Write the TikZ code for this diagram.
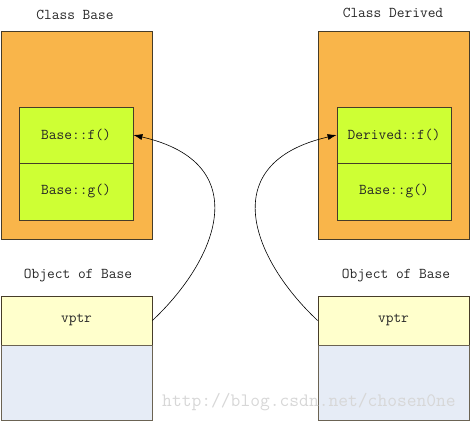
\documentclass[tikz,border=0pt]{standalone}
\usepackage{fontspec}
\usetikzlibrary{arrows.meta}
\definecolor{orangebox}{RGB}{249,181,74}
\definecolor{greenbox}{RGB}{206,255,52}
\definecolor{yellowbox}{RGB}{255,255,204}
\definecolor{bluebox}{RGB}{230,236,246}
\definecolor{edge}{RGB}{70,60,40}
\definecolor{wm}{RGB}{215,215,215}
\tikzset{
  txt/.style={font=\ttfamily\fontsize{15}{16}\selectfont, text=black!85, inner sep=0pt},
  classbox/.style={draw=edge, line width=0.8pt, fill=orangebox, minimum width=151pt, minimum height=208pt, inner sep=0pt},
  fnbox/.style={draw=edge, line width=0.8pt, fill=greenbox, minimum width=114pt, inner sep=0pt, txt},
  ptrbox/.style={draw=edge, line width=0.8pt, fill=yellowbox, minimum width=151pt, minimum height=49pt, inner sep=0pt, txt},
  restbox/.style={draw=edge!80, line width=0.8pt, fill=bluebox, minimum width=151pt, minimum height=75pt, inner sep=0pt},
  link/.style={draw=black, line width=0.6pt, -{Latex[length=9pt,width=6pt]}},
}
\begin{document}
\begin{tikzpicture}[x=1pt,y=-1pt]
\useasboundingbox (0,0) rectangle (470,421);
% left class
\node[txt] (tL) at (75,15) {Class Base};
\node[classbox] (cL) at (76.5,135) {};
\node[fnbox, minimum height=56pt] (fL) at (76,135) {Base::f()};
\node[fnbox, minimum height=57pt] (gL) at (76,191.5) {Base::g()};
% right class
\node[txt] (tR) at (393,13) {Class Derived};
\node[classbox] (cR) at (393.5,135) {};
\node[fnbox, minimum height=56pt] (fR) at (394,135) {Derived::f()};
\node[fnbox, minimum height=57pt] (gR) at (394,191.5) {Base::g()};
% objects
\node[txt] (oL) at (78,276) {Object of Base};
\node[ptrbox] (vL) at (76.5,320.5) {vptr};
\node[restbox] (rL) at (76.5,382.5) {};
\node[txt] (oR) at (396,276) {Object of Base};
\node[ptrbox] (vR) at (393.5,320.5) {vptr};
\node[restbox] (rR) at (393.5,382.5) {};
% watermark
\node[font=\ttfamily\fontsize{19}{20}\selectfont, text=wm, inner sep=0pt] (wmk) at (309,402) {http://blog.csdn.net/chosen0ne};
% links
\draw[link] (vL.east) .. controls +(66,-62) and +(122,28) .. (fL.east);
\draw[link] (vR.west) .. controls +(-66,-62) and +(-122,28) .. (fR.west);
\end{tikzpicture}
\end{document}
